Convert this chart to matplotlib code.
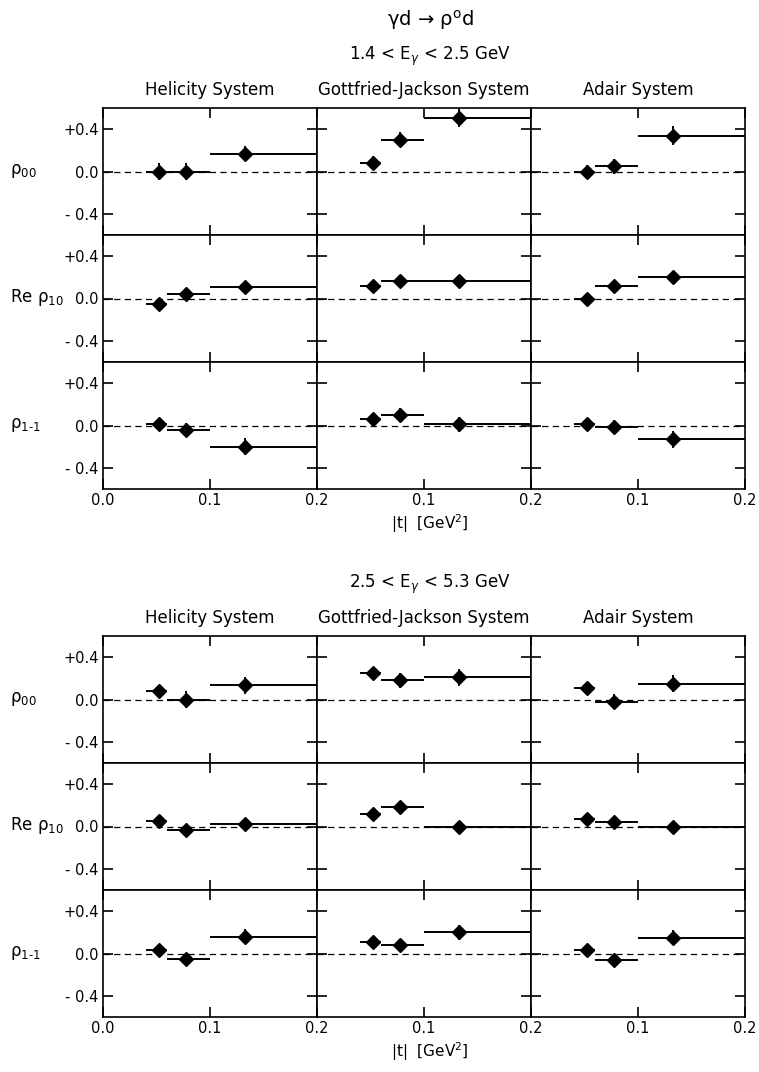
import matplotlib
matplotlib.use("Agg")
from matplotlib import pyplot as plt

# |t| bins (GeV^2)
t_mid = [0.052, 0.078, 0.133]
t_lo = [0.04, 0.06, 0.10]
t_hi = [0.06, 0.10, 0.20]

systems = ["Helicity System", "Gottfried-Jackson System", "Adair System"]
rows = ["ρ$_{00}$", "Re ρ$_{10}$", "ρ$_{1\\text{-}1}$"]

# 1.4 < E < 2.5 GeV  (one list per system: helicity, GJ, adair)
rho00_low = [[0.0, 0.0, 0.17], [0.08, 0.30, 0.51], [0.0, 0.05, 0.34]]
rho00_low_err = [[0.08, 0.08, 0.075], [0.07, 0.07, 0.09], [0.06, 0.07, 0.09]]
rho10_low = [[-0.055, 0.04, 0.11], [0.12, 0.17, 0.17], [0.0, 0.12, 0.20]]
rho10_low_err = [[0.05, 0.04, 0.05], [0.05, 0.05, 0.05], [0.04, 0.04, 0.05]]
rho1m1_low = [[0.01, -0.04, -0.20], [0.06, 0.10, 0.01], [0.01, -0.01, -0.13]]
rho1m1_low_err = [[0.06, 0.06, 0.08], [0.05, 0.07, 0.07], [0.06, 0.06, 0.08]]

# 2.5 < E < 5.3 GeV
rho00_high = [[0.08, 0.0, 0.135], [0.25, 0.18, 0.21], [0.11, -0.02, 0.15]]
rho00_high_err = [[0.05, 0.08, 0.08], [0.06, 0.07, 0.08], [0.04, 0.07, 0.08]]
rho10_high = [[0.05, -0.035, 0.02], [0.12, 0.18, 0.0], [0.07, 0.04, 0.0]]
rho10_high_err = [[0.04, 0.04, 0.04], [0.04, 0.06, 0.05], [0.04, 0.05, 0.05]]
rho1m1_high = [[0.03, -0.05, 0.16], [0.11, 0.08, 0.20], [0.03, -0.06, 0.15]]
rho1m1_high_err = [[0.04, 0.05, 0.07], [0.05, 0.05, 0.07], [0.04, 0.06, 0.07]]

blocks = [
    ("1.4 < E$_\\gamma$ < 2.5 GeV",
     [(rho00_low, rho00_low_err), (rho10_low, rho10_low_err), (rho1m1_low, rho1m1_low_err)]),
    ("2.5 < E$_\\gamma$ < 5.3 GeV",
     [(rho00_high, rho00_high_err), (rho10_high, rho10_high_err), (rho1m1_high, rho1m1_high_err)]),
]

W, H = 759, 1072
fig = plt.figure(figsize=(W / 100, H / 100), dpi=100)

col_x = [103, 317, 531]
col_w = 214
row_h = 127
block_top = [108, 636]

xerr = [[m - l for m, l in zip(t_mid, t_lo)], [h - m for m, h in zip(t_mid, t_hi)]]

for b, (subtitle, data) in enumerate(blocks):
    top = block_top[b]
    fig.text(430 / W, 1 - (top - 52) / H, subtitle, ha="center", va="center", fontsize=12)
    for c in range(3):
        fig.text((col_x[c] + col_w / 2) / W, 1 - (top - 18) / H, systems[c],
                 ha="center", va="center", fontsize=12)
    for r in range(3):
        vals, errs = data[r]
        y0 = top + r * row_h
        for c in range(3):
            ax = fig.add_axes([col_x[c] / W, 1 - (y0 + row_h) / H, col_w / W, row_h / H])
            ax.set_xlim(0, 0.2)
            ax.set_ylim(-0.6, 0.6)
            ax.axhline(0, color="black", lw=0.9, ls=(0, (5, 3.5)))
            ax.errorbar(t_mid, vals[c], yerr=errs[c], xerr=xerr, fmt="D", ms=7.5,
                        color="black", ecolor="black", elinewidth=1.4, capsize=0)
            for s in ax.spines.values():
                s.set_linewidth(1.2)
            ax.set_xticks([0, 0.1, 0.2])
            ax.set_yticks([-0.4, 0.0, 0.4])
            ax.tick_params(direction="in", length=7, width=1.2, top=True, right=True,
                           labelsize=10.5, pad=3)
            if c == 0:
                ax.set_yticklabels(["- 0.4", "0.0", "+0.4"])
            else:
                ax.set_yticklabels([])
            if r == 2:
                if c == 0:
                    ax.set_xticklabels(["0.0", "0.1", "0.2"])
                else:
                    ax.set_xticklabels(["", "0.1", "0.2"])
            else:
                ax.set_xticklabels([])
        fig.text(10 / W, 1 - (y0 + 63) / H, rows[r], ha="left", va="center", fontsize=12)
    fig.text(430 / W, 1 - (top + 3 * row_h + 35) / H, "|t|  [GeV$^2$]",
             ha="center", va="center", fontsize=11)

fig.text(430 / W, 1 - 20 / H, "γd → ρ$^{\\rm o}$d", ha="center", va="center", fontsize=14)

fig.savefig("out.png", dpi=100)
